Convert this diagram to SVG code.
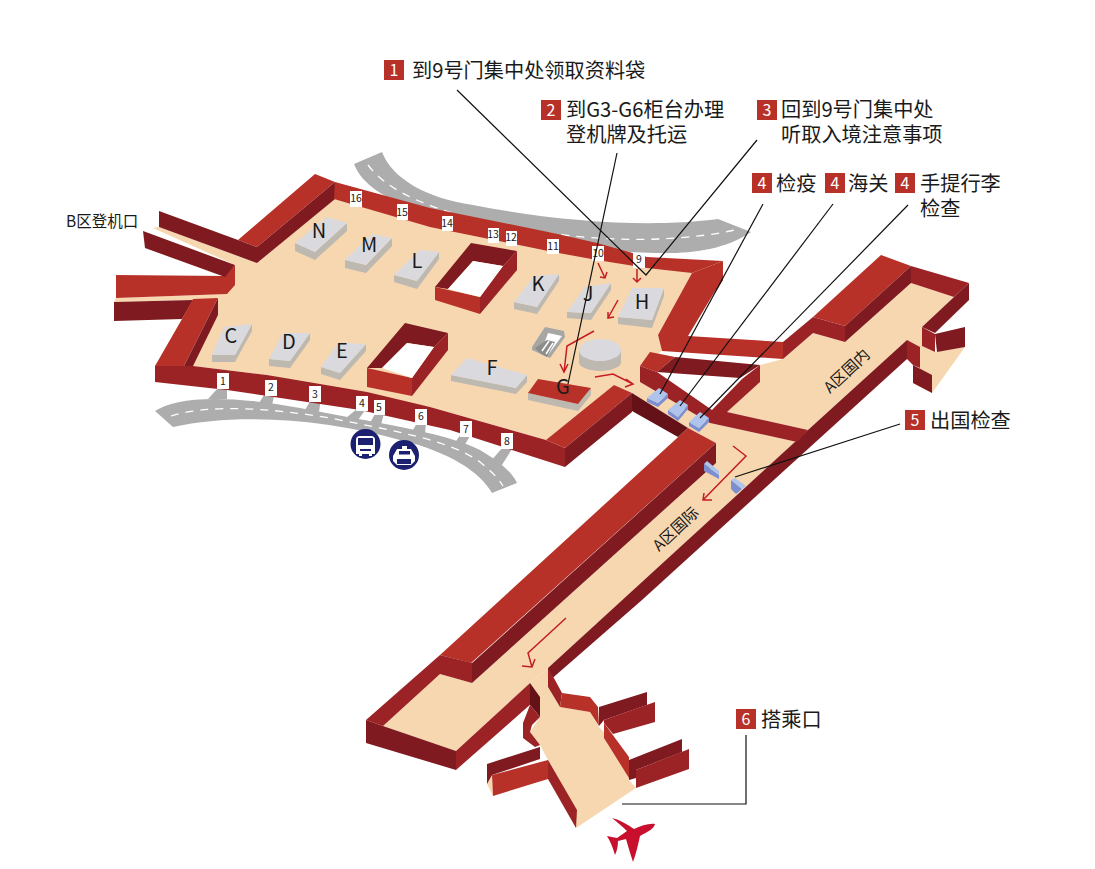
<svg xmlns="http://www.w3.org/2000/svg" width="1095" height="869" viewBox="0 0 1095 869">
<style>
text{font-family:"Noto Sans CJK SC","Noto Sans",sans-serif;fill:#1a1a1a}
.t{fill:#b73128}.m{fill:#9c2325}.d{fill:#7f1a20}.x{fill:#641218}.f{fill:#f7d7b0}.w{fill:#fff}
.r{fill:#adadad}.g{fill:#bdb8b0}.h{fill:#dadade}.b{fill:#aec4ec}.s{fill:#7b8ed0}
.dash{fill:none;stroke:#fff;stroke-width:1.3;stroke-dasharray:8 7}
.l{fill:none;stroke:#111;stroke-width:1.2}
.a{fill:none;stroke:#c41e24;stroke-width:1.5}
.sq{fill:#b73128}.sqt{fill:#fff;font-size:16px;text-anchor:middle}
.lb{font-size:20.2px}.k{font-size:20px;text-anchor:middle}
.n{font-size:10.5px;text-anchor:middle}
.nv{fill:#1b2070}
</style>
<g id="roads">
<path class="r" d="M354,164L382,152C392,178 425,198 473,205C560,222 650,228 718,219L751,232C725,250 690,254 655,253C560,250 470,232 420,212C385,198 362,185 354,164Z"/>
<path class="dash" d="M368,165C385,188 420,205 470,218C550,238 650,248 735,230"/>
<path class="r" d="M155,411C175,397 225,394 300,408C370,422 445,432 480,450C500,462 512,472 517,483L492,493C480,472 450,452 400,440C330,420 240,412 173,427Z"/>
<path class="dash" d="M171,416C210,404 270,408 330,418C390,430 450,440 480,462C492,472 498,478 503,486"/>
<path class="r" d="M218,388L227,388L227,399L208,399ZM266,392L275,392L272,405L259,403ZM312,398L321,398L319,412L305,410ZM358,408L366,409L358,420L346,418ZM376,412L384,413L381,425L370,423ZM418,421L426,422L425,434L412,432ZM461,434L470,436L464,446L454,444ZM503,447L512,449L500,468L490,462Z"/>
</g>
<g id="building">
<path class="f" d="M334,199L692,273L658,335L662,351L640,366L640,382L632,393L614,385L546,440L430,407L267,375L193,366L218,298L235,265L153,228L159,227L257,263Z"/>
<path class="f" d="M911,283L954,297L922,327L922,346L935,352L965,347L932,393L913,383L920,368L907,340L808,430L727,412L760,382L760,365L783,359L813,333L845,342Z"/>
<path class="f" d="M632,393L640,382L710,423L797,442L808,430L548,668L530,683L456,751L383,726L440,674L472,683L716,463L716,443L688,428Z"/>
<path class="f" d="M548,668L530,683L540,698L540,717L530,732L540,745L548,760L576,828L636,788L629,780L629,760L599,727L590,712L560,707L548,687Z"/>
<path class="f" d="M487,784L492,775L493,796Z"/>
<path class="f" d="M116,298L227,294L218,298L193,300L114,302Z"/>
<polygon class="t" points="315,174 238,240 257,247 335,182"/>
<polygon class="d" points="257,247 335,182 335,199 257,263"/>
<polygon class="d" points="159,211 238,240 257,247 257,263 159,227"/>
<polygon class="t" points="335,182 430,208 553,233 597,243 647,257 723,261 692,273 647,268 597,260 553,252 430,227 334,199"/>
<polygon class="d" points="723,261 723,280 715,293"/>
<polygon class="t" points="692,273 723,261 723,278 688,336 783,342 783,359 662,351 658,335"/>
<polygon class="m" points="783,342 813,317 813,333 783,359"/>
<polygon class="t" points="813,317 881,255 911,266 845,326"/>
<polygon class="m" points="813,317 845,326 845,342 813,333"/>
<polygon class="d" points="845,326 911,266 911,283 845,342"/>
<polygon class="m" points="911,266 969,283 954,297 911,283"/>
<polygon class="d" points="969,283 969,300 935,333 922,327 954,297"/>
<polygon class="m" points="922,327 935,334 935,352 922,346"/>
<polygon class="d" points="935,334 965,327 965,347 937,352"/>
<polygon class="d" points="907,340 808,430 548,668 548,682 642,600 907,359"/>
<polygon class="m" points="907,340 920,347 920,368 913,365 907,359"/>
<polygon class="d" points="913,365 932,375 932,393 913,383"/>
<polygon class="t" points="650,352 675,357 657,372 640,366"/>
<polygon class="d" points="657,372 675,357 760,365 740,378"/>
<polygon class="m" points="640,366 657,372 712,410 742,379 760,365 760,382 727,412 808,430 797,442 710,423 640,382"/>
<polygon class="t" points="688,428 716,443 471,663 440,655"/>
<polygon class="d" points="716,443 716,463 472,683 472,663"/>
<polygon class="m" points="440,655 472,663 472,683 440,674"/>
<polygon class="m" points="440,655 366,720 383,726 440,674"/>
<polygon class="d" points="366,720 366,743 456,770 456,751 383,726"/>
<polygon class="m" points="456,751 456,770 532,703 530,683"/>
<polygon class="m" points="548,668 548,687 560,707 562,693 555,680"/>
<polygon class="t" points="562,693 590,697 598,707 599,726 590,712 560,707"/>
<polygon class="d" points="599,707 647,692 647,705 604,720 599,726"/>
<polygon class="m" points="604,720 655,702 655,722 613,734 604,723"/>
<polygon class="t" points="604,723 629,757 629,778 604,738"/>
<polygon class="d" points="629,760 682,739 682,752 636,770 636,778 629,780"/>
<polygon class="m" points="636,770 689,749 689,769 636,788"/>
<polygon class="x" points="530,683 540,697 540,717 530,705"/>
<polygon class="m" points="530,705 540,717 532,725 530,732 540,745 535,747 523,738 523,723"/>
<polygon class="d" points="487,764 540,747 540,759 492,775 487,784"/>
<polygon class="t" points="492,775 548,760 548,779 493,796"/>
<polygon class="m" points="548,760 577,810 576,828 548,779"/>
<polygon class="t" points="116,275 225,276 235,265 235,285 227,294 116,298"/>
<polygon class="d" points="114,302 193,300 182,319 114,321"/>
<polygon class="d" points="143,231 145,248 225,277 235,265"/>
<polygon class="t" points="155,366 182,319 193,299 218,298 184,366"/>
<polygon class="d" points="218,298 218,315 193,366 184,366"/>
<path class="m" d="M155,366L193,366L267,375L367,392L430,407L546,440L565,448L565,467L450,430L360,410L227,390L155,382Z"/>
<polygon class="t" points="546,440 614,385 632,393 565,448"/>
<polygon class="d" points="632,393 632,412 565,467 565,448"/>
<polygon class="x" points="632,393 688,428 678,437 632,411"/>
</g>
<g id="courtyards">
<polygon class="d" points="471,243 517,251 503,266 473,261 448,289 435,287"/>
<polygon class="m" points="517,251 517,270 480,314 480,297 503,266"/>
<polygon class="t" points="435,287 480,297 480,314 435,300"/>
<polygon class="w" points="448,289 473,261 503,266 480,297"/>
<polygon class="d" points="405,323 448,333 434,347 407,343 382,368 367,368"/>
<polygon class="m" points="448,333 448,350 412,396 412,378 434,347"/>
<polygon class="t" points="367,368 412,378 412,396 367,387"/>
<polygon class="w" points="382,368 407,343 434,347 412,378"/>
</g>
<g id="counter-N"><path class="g" d="M295,243L315,252L347,223L347,231L315,260L295,251Z"/><polygon class="h" points="295,243 327,217 347,223 315,252"/><text class="k" x="319" y="238">N</text></g>
<g id="counter-M"><path class="g" d="M345,260L366,265L392,238L392,246L366,273L345,268Z"/><polygon class="h" points="345,260 372,234 392,238 366,265"/><text class="k" x="369" y="252">M</text></g>
<g id="counter-L"><path class="g" d="M394,275L417,281L439,252L439,259L417,289L394,282Z"/><polygon class="h" points="394,275 420,250 439,252 417,281"/><text class="k" x="417" y="268">L</text></g>
<g id="counter-C"><path class="g" d="M212,355L235,355L252,324L252,331L235,362L212,362Z"/><polygon class="h" points="212,355 224,327 252,324 235,355"/><text class="k" x="231" y="343">C</text></g>
<g id="counter-D"><path class="g" d="M269,359L290,361L310,333L310,340L290,368L269,366Z"/><polygon class="h" points="269,359 283,333 310,333 290,361"/><text class="k" x="289" y="349">D</text></g>
<g id="counter-E"><path class="g" d="M321,367L340,373L366,344L366,351L340,380L321,374Z"/><polygon class="h" points="321,367 338,343 366,344 340,373"/><text class="k" x="342" y="358">E</text></g>
<g id="counter-K"><path class="g" d="M514,302L537,307L559,274L559,281L537,314L514,309Z"/><polygon class="h" points="514,302 534,276 559,274 537,307"/><text class="k" x="538" y="291">K</text></g>
<g id="counter-J"><path class="g" d="M567,312L591,313L611,283L611,290L591,320L567,318Z"/><polygon class="h" points="567,312 585,287 611,283 591,313"/><text class="k" x="588" y="301">J</text></g>
<g id="counter-H"><path class="g" d="M618,317L652,320L664,288L664,296L652,328L618,324Z"/><polygon class="h" points="618,317 632,288 664,288 652,320"/><text class="k" x="642" y="309">H</text></g>
<g id="counter-F"><path class="g" d="M451,375L516,388L527,375L527,382L516,394L451,381Z"/><polygon class="h" points="451,375 467,358 527,375 516,388"/><text class="k" x="492" y="375">F</text></g>
<g id="counter-G"><path class="g" d="M528,393L578,404L591,388L591,395L578,411L528,400Z"/><polygon class="t" points="528,393 538,379 591,388 578,404"/><text class="k" x="563" y="394">G</text></g>
<g id="escalator">
<polygon fill="#a6a6a4" points="532,347 545,327 564,331 565,337 550,358 532,350"/>
<polygon class="w" points="542,350 548,333 562,336 548,355"/>
<polygon fill="#8c8c8a" points="535,348 547,340 555,342 547,357 541,354"/>
<path d="M542,351L549,341M546,354L553,343" fill="none" stroke="#fff" stroke-width="1.500"/>
</g>
<g id="drum"><path class="g" d="M579,350V362A21,9 0 0 0 621,362V350Z"/><ellipse class="h" cx="600" cy="350" rx="21" ry="11"/></g>
<g id="gates">
<path class="s" d="M647,398L658,403L668,394V398L658,407L647,402Z"/><polygon class="b" points="647,398 659,388 668,394 658,403"/>
<path class="s" d="M668,410L678,417L688,405V409L678,421L668,414Z"/><polygon class="b" points="668,410 680,400 688,405 678,417"/>
<path class="s" d="M689,422L699,428L709,418V422L699,432L689,426Z"/><polygon class="b" points="689,422 700,412 709,418 699,428"/>
<polygon class="s" points="704,464 719,475 719,479 704,471"/><polygon class="b" points="704,464 707,461 719,471 719,475"/>
<polygon class="s" points="731,480 742,489 736,494 731,489"/><polygon class="b" points="731,480 735,478 746,486 742,489"/>
</g>
<g id="gate-numbers">
<g fill="#fff">
<rect x="217" y="373" width="12" height="16"/><rect x="265" y="380" width="12" height="16"/><rect x="309" y="386" width="12" height="16"/><rect x="356" y="396" width="12" height="15"/><rect x="374" y="400" width="11" height="15"/><rect x="415" y="409" width="12" height="16"/><rect x="460" y="421" width="12" height="16"/><rect x="501" y="433" width="12" height="16"/><rect x="633" y="253" width="12" height="15"/><rect x="592" y="246" width="12" height="15"/><rect x="547" y="239" width="12" height="15"/><rect x="506" y="231" width="11" height="15"/><rect x="488" y="228" width="11" height="15"/><rect x="442" y="216" width="11" height="15"/><rect x="397" y="204" width="11" height="16"/><rect x="350" y="191" width="12" height="16"/>
</g>
<text class="n" x="223" y="385">1</text><text class="n" x="271" y="391">2</text><text class="n" x="315" y="398">3</text><text class="n" x="362" y="407">4</text><text class="n" x="379" y="411">5</text><text class="n" x="421" y="420">6</text><text class="n" x="466" y="433">7</text><text class="n" x="507" y="445">8</text><text class="n" x="639" y="263">9</text><text class="n" x="598" y="257">10</text><text class="n" x="553" y="250">11</text><text class="n" x="511" y="241">12</text><text class="n" x="493" y="238">13</text><text class="n" x="447" y="227">14</text><text class="n" x="402" y="216">15</text><text class="n" x="356" y="202">16</text>
</g>
<g id="bus"><circle class="nv" cx="365.500" cy="444" r="15"/><path class="w" d="M356,440Q356,436 360,436H371Q375,436 375,440V454H372V456H369V454H362V456H359V454H356Z"/><rect class="nv" x="358" y="438" width="15" height="7"/><rect class="nv" x="360" y="449" width="11" height="2"/></g>
<g id="taxi"><circle class="nv" cx="404" cy="455" r="15"/><path class="w" d="M393,456L397,449H402V446H407V449H411L415,456V461L411,465H397L393,461Z"/><rect class="nv" x="399" y="451" width="11" height="3.500"/><rect class="nv" x="397" y="459" width="14" height="5"/></g>
<g id="plane"><path fill="#c8102e" d="M655,824C654,829 647,832 640,836C638,845 636,854 633,862C630,853 628,846 626,839L618,841C618,846 617,851 615,855C613,849 611,842 607,836L617,838L627,831C622,826 617,822 612,818C620,820 627,824 634,829C641,826 649,823 655,824Z"/></g>
<g id="connectors">
<path class="a" d="M598,263L605,278M600,277L605,278L607,272"/>
<path class="a" d="M637,269V282M633,278L637,282L641,278"/>
<path class="a" d="M618,300L608,318M608,312L608,318L614,317"/>
<path class="a" d="M594,331L567,346L564,372M560,364L564,372L568,364"/>
<path class="a" d="M595,377L613,374L633,384M626,379L633,384L625,387"/>
<path class="a" d="M733,446L746,456L703,500M704,493L703,500L712,500"/>
<path class="a" d="M566,618L528,653L532,667M522,666L532,667L535,659"/>
<polyline class="l" points="457,90 646,275 757,140"/>
<polyline class="l" points="617,153 568,384"/>
<polyline class="l" points="763,204 660,394"/>
<polyline class="l" points="833,204 680,406"/>
<polyline class="l" points="908,205 700,418"/>
<polyline class="l" points="900,424 735,477"/>
<polyline class="l" points="622,804 746,804 746,735"/>
</g>
<g id="labels">
<text x="66" y="227" font-size="15.500">B区登机口</text>
<text font-size="15.500" transform="translate(830,394) rotate(-43)">A区国内</text>
<text font-size="15.500" transform="translate(659,552) rotate(-43)">A区国际</text>
<rect class="sq" x="384" y="60" width="20" height="20"/><text class="sqt" x="394" y="76">1</text><text class="lb" x="412" y="78">到9号门集中处领取资料袋</text>
<rect class="sq" x="541" y="100" width="20" height="20"/><text class="sqt" x="551" y="116">2</text><text class="lb" x="566" y="117">到G3-G6柜台办理</text><text class="lb" x="566" y="142">登机牌及托运</text>
<rect class="sq" x="757" y="100" width="20" height="20"/><text class="sqt" x="767" y="116">3</text><text class="lb" x="781" y="117">回到9号门集中处</text><text class="lb" x="781" y="142">听取入境注意事项</text>
<rect class="sq" x="752" y="173" width="20" height="20"/><text class="sqt" x="762" y="189">4</text><text class="lb" x="776" y="191">检疫</text>
<rect class="sq" x="825" y="173" width="20" height="20"/><text class="sqt" x="835" y="189">4</text><text class="lb" x="848" y="191">海关</text>
<rect class="sq" x="895" y="173" width="20" height="20"/><text class="sqt" x="905" y="189">4</text><text class="lb" x="920" y="191">手提行李</text><text class="lb" x="920" y="216">检查</text>
<rect class="sq" x="905" y="410" width="20" height="20"/><text class="sqt" x="915" y="426">5</text><text class="lb" x="930" y="428">出国检查</text>
<rect class="sq" x="736" y="709" width="20" height="20"/><text class="sqt" x="746" y="725">6</text><text class="lb" x="761" y="727">搭乘口</text>
</g>
</svg>
